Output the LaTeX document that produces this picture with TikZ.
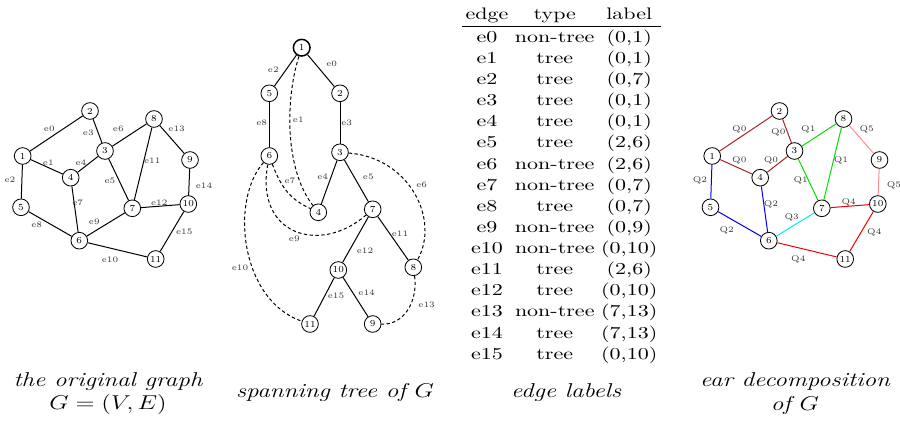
\documentclass[tikz,border=0pt]{standalone}
\usepackage{amsmath}
\definecolor{qzero}{RGB}{165,35,35}
\definecolor{qone}{RGB}{0,225,0}
\definecolor{qtwo}{RGB}{0,0,240}
\definecolor{qthree}{RGB}{0,240,240}
\definecolor{qfour}{RGB}{240,0,0}
\definecolor{qfive}{RGB}{255,140,140}

\begin{document}
\begin{tikzpicture}[x=0.6pt,y=-0.6pt,
    vtx/.style={circle,draw=black,inner sep=0pt,minimum size=10pt,line width=0.5pt,font=\fontsize{5.5}{6.5}\selectfont},
    root/.style={vtx,line width=0.9pt},
    elbl/.style={inner sep=0pt,text=black!80,font=\fontsize{5}{6}\selectfont},
    ntree/.style={dash pattern=on 2pt off 1.5pt},
    capt/.style={align=center,xscale=1.25,font=\large\itshape},
    every path/.style={line width=0.6pt}]
    \useasboundingbox (0,0) rectangle (900,423);

    % the original graph
    \node (G1) at (22.7,156) [vtx] {1};
    \node (G2) at (90,111) [vtx] {2};
    \node (G3) at (105,151) [vtx] {3};
    \node (G4) at (70.7,177.7) [vtx] {4};
    \node (G5) at (21,207.3) [vtx] {5};
    \node (G6) at (79.3,240.7) [vtx] {6};
    \node (G7) at (132.3,208.3) [vtx] {7};
    \node (G8) at (154,119) [vtx] {8};
    \node (G9) at (190,160) [vtx] {9};
    \node (G10) at (188.3,204) [vtx] {10};
    \node (G11) at (155.7,259) [vtx] {11};
    \draw (G1) -- (G2);
    \draw (G1) -- (G4);
    \draw (G1) -- (G5);
    \draw (G2) -- (G3);
    \draw (G3) -- (G4);
    \draw (G3) -- (G7);
    \draw (G3) -- (G8);
    \draw (G4) -- (G6);
    \draw (G5) -- (G6);
    \draw (G6) -- (G7);
    \draw (G6) -- (G11);
    \draw (G7) -- (G8);
    \draw (G7) -- (G10);
    \draw (G8) -- (G9);
    \draw (G9) -- (G10);
    \draw (G10) -- (G11);
    \node (GL0) at (49.3,129.3) [elbl] {e0};
    \node (GL1) at (48.3,162.3) [elbl] {e1};
    \node (GL2) at (10,180) [elbl] {e2};
    \node (GL3) at (88.3,133.3) [elbl] {e3};
    \node (GL4) at (81,162.3) [elbl] {e4};
    \node (GL5) at (110,180.7) [elbl] {e5};
    \node (GL6) at (118.3,129.3) [elbl] {e6};
    \node (GL7) at (77.7,202.7) [elbl] {e7};
    \node (GL8) at (36.7,225) [elbl] {e8};
    \node (GL9) at (94.3,222.3) [elbl] {e9};
    \node (GL10) at (110,260) [elbl] {e10};
    \node (GL11) at (152.3,160.7) [elbl] {e11};
    \node (GL12) at (159.3,202.7) [elbl] {e12};
    \node (GL13) at (176.7,129.3) [elbl] {e13};
    \node (GL14) at (204,185.7) [elbl] {e14};
    \node (GL15) at (184.3,232.3) [elbl] {e15};
    \node (GC) at (108,393.7) [capt] {the original graph\\ $G=(V,E)$};

    % spanning tree
    \node (T1) at (301.7,47.7) [root] {1};
    \node (T2) at (340,93.3) [vtx] {2};
    \node (T3) at (340,152.3) [vtx] {3};
    \node (T4) at (318.3,212.3) [vtx] {4};
    \node (T5) at (269.3,93.3) [vtx] {5};
    \node (T6) at (269.3,156) [vtx] {6};
    \node (T7) at (372.7,209.3) [vtx] {7};
    \node (T8) at (413.3,267.3) [vtx] {8};
    \node (T9) at (372.7,324) [vtx] {9};
    \node (T10) at (338.3,270) [vtx] {10};
    \node (T11) at (310,324) [vtx] {11};
    \draw (T1) -- (T5);
    \draw (T1) -- (T2);
    \draw (T5) -- (T6);
    \draw (T2) -- (T3);
    \draw (T3) -- (T4);
    \draw (T3) -- (T7);
    \draw (T7) -- (T10);
    \draw (T7) -- (T8);
    \draw (T10) -- (T11);
    \draw (T10) -- (T9);
    \draw[ntree] (T1) .. controls (285,100) and (285,170) .. (T4);
    \draw[ntree] (T6) .. controls (282,190) and (292,200) .. (T4);
    \draw[ntree] (T6) .. controls (255,235) and (320,255) .. (T7);
    \draw[ntree] (T6) .. controls (230,200) and (240,300) .. (T11);
    \draw[ntree] (T3) .. controls (410,158) and (440,220) .. (T8);
    \draw[ntree] (T8) .. controls (418,300) and (405,325) .. (T9);
    \node (TL0) at (331.7,64.3) [elbl] {e0};
    \node (TL1) at (298.3,119.3) [elbl] {e1};
    \node (TL2) at (273.3,69.3) [elbl] {e2};
    \node (TL3) at (346.7,123.3) [elbl] {e3};
    \node (TL4) at (322.7,176.7) [elbl] {e4};
    \node (TL5) at (368.3,176.7) [elbl] {e5};
    \node (TL6) at (421.7,185) [elbl] {e6};
    \node (TL7) at (290,180.7) [elbl] {e7};
    \node (TL8) at (261.7,123.3) [elbl] {e8};
    \node (TL9) at (294.3,239.3) [elbl] {e9};
    \node (TL10) at (240,268.3) [elbl] {e10};
    \node (TL11) at (400,233.3) [elbl] {e11};
    \node (TL12) at (365,250.7) [elbl] {e12};
    \node (TL13) at (426.7,305) [elbl] {e13};
    \node (TL14) at (366.7,292.3) [elbl] {e14};
    \node (TL15) at (336,296) [elbl] {e15};
    \node (TC) at (335,393) [capt] {spanning tree of $G$};

    % edge labels
    \node (TAB) at (561.5,4.5) [anchor=north,inner sep=0pt,xscale=1.32,font=\fontsize{10}{12.68}\selectfont] {%
      \setlength{\tabcolsep}{1.5pt}\setlength{\arrayrulewidth}{0.8pt}%
      \begin{tabular}{ccc}
        edge & type & label\\ \hline
        e0 & non-tree & (0,1)\\
        e1 & tree & (0,1)\\
        e2 & tree & (0,7)\\
        e3 & tree & (0,1)\\
        e4 & tree & (0,1)\\
        e5 & tree & (2,6)\\
        e6 & non-tree & (2,6)\\
        e7 & non-tree & (0,7)\\
        e8 & tree & (0,7)\\
        e9 & non-tree & (0,9)\\
        e10 & non-tree & (0,10)\\
        e11 & tree & (2,6)\\
        e12 & tree & (0,10)\\
        e13 & non-tree & (7,13)\\
        e14 & tree & (7,13)\\
        e15 & tree & (0,10)
      \end{tabular}};
    \node (LC) at (566,393) [capt] {edge labels};

    % ear decomposition
    \node (E1) at (712.2,156) [vtx] {1};
    \node (E2) at (779.5,111) [vtx] {2};
    \node (E3) at (794.5,151) [vtx] {3};
    \node (E4) at (760.2,177.7) [vtx] {4};
    \node (E5) at (710.5,207.3) [vtx] {5};
    \node (E6) at (768.8,240.7) [vtx] {6};
    \node (E7) at (821.8,208.3) [vtx] {7};
    \node (E8) at (843.5,119) [vtx] {8};
    \node (E9) at (879.5,160) [vtx] {9};
    \node (E10) at (877.8,204) [vtx] {10};
    \node (E11) at (845.2,259) [vtx] {11};
    \draw[qzero] (E1) -- (E2);
    \draw[qzero] (E2) -- (E3);
    \draw[qzero] (E1) -- (E4);
    \draw[qzero] (E3) -- (E4);
    \draw[qone] (E3) -- (E8);
    \draw[qone] (E3) -- (E7);
    \draw[qone] (E7) -- (E8);
    \draw[qtwo] (E1) -- (E5);
    \draw[qtwo] (E5) -- (E6);
    \draw[qtwo] (E4) -- (E6);
    \draw[qthree] (E6) -- (E7);
    \draw[qfour] (E7) -- (E10);
    \draw[qfour] (E10) -- (E11);
    \draw[qfour] (E6) -- (E11);
    \draw[qfive] (E8) -- (E9);
    \draw[qfive] (E9) -- (E10);
    \node (EL0) at (739.3,129.3) [elbl] {Q0};
    \node (EL1) at (778.3,132.7) [elbl] {Q0};
    \node (EL2) at (739.3,160.7) [elbl] {Q0};
    \node (EL3) at (771,160.7) [elbl] {Q0};
    \node (EL4) at (808.3,129.3) [elbl] {Q1};
    \node (EL5) at (800.7,180.7) [elbl] {Q1};
    \node (EL6) at (841,160.7) [elbl] {Q1};
    \node (EL7) at (700,180) [elbl] {Q2};
    \node (EL8) at (771,204.3) [elbl] {Q2};
    \node (EL9) at (726.7,230) [elbl] {Q2};
    \node (EL10) at (791.7,217.7) [elbl] {Q3};
    \node (EL11) at (848.7,202.3) [elbl] {Q4};
    \node (EL12) at (874.3,232.3) [elbl] {Q4};
    \node (EL13) at (798.3,259.3) [elbl] {Q4};
    \node (EL14) at (866.7,129.3) [elbl] {Q5};
    \node (EL15) at (894,185.7) [elbl] {Q5};
    \node (EC) at (795,393.7) [capt] {ear decomposition\\ of $G$};
\end{tikzpicture}
\end{document}
